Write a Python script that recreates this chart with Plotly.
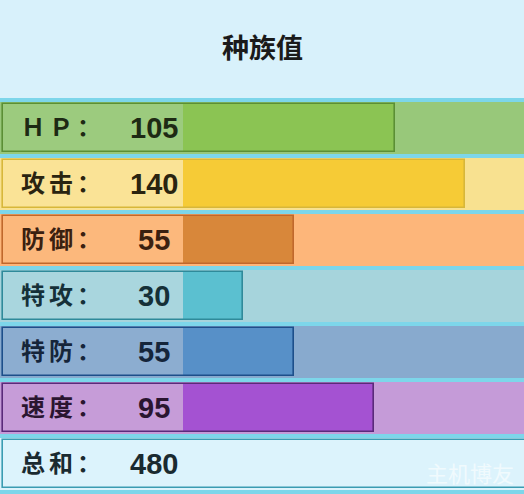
import plotly.graph_objects as go

# ---- data ----
stat_labels = ["Ｈ\u2006Ｐ\u2006：", "攻\u2006击\u2006：", "防\u2006御\u2006：", "特\u2006攻\u2006：", "特\u2006防\u2006：", "速\u2006度\u2006："]
stat_values = [105, 140, 55, 30, 55, 95]
total_label = "总\u2006和\u2006："
total_value = sum(stat_values)  # 480
title_text = "种族值"

# ---- styles ----
band_colors = ["#98c87a", "#f8e190", "#fdb67a", "#a6d4dc", "#88aace", "#c59bd8"]
label_colors = ["#9ccb7e", "#fae396", "#fcb87c", "#a9d6de", "#8cadd0", "#c69cd8"]
bar_colors = ["#8bc453", "#f6cb36", "#d8873a", "#5bc0d0", "#5790c8", "#a452d2"]
border_colors = ["#5b8f35", "#d7b73a", "#c0682c", "#2f8a9a", "#1d4f8a", "#5a2a7a"]
text_colors = ["#1e2a14", "#2a2410", "#3a2010", "#153038", "#15253a", "#2a1530"]
total_band = "#dcf3fc"
total_border = "#3a9cb2"
sep_color = "#7dd6ea"
title_bg = "#d8f1fb"

W, H = 524, 494
px_per_unit = 2.015
zero_px = 183.0
label_px = 3.0
row0_px = 128.0
row_pitch = 56.0

x_min = -zero_px / px_per_unit
x_max = (W - zero_px) / px_per_unit
label_start = (label_px - zero_px) / px_per_unit
y_top = -row0_px / row_pitch
y_bot = (H - row0_px) / row_pitch

n = len(stat_values)
rows = list(range(n))
band_w = 52 / row_pitch
box_w = 48 / row_pitch

fig = go.Figure()

# full-width background bands
fig.add_trace(go.Bar(
    y=rows + [n], x=[x_max - x_min] * (n + 1), base=[x_min] * (n + 1),
    orientation="h", width=band_w,
    marker=dict(color=band_colors + [total_band], line=dict(width=0)),
    hoverinfo="skip", showlegend=False))

# label sections
fig.add_trace(go.Bar(
    y=rows, x=[-label_start] * n, base=[label_start] * n,
    orientation="h", width=box_w,
    marker=dict(color=label_colors, line=dict(width=0)),
    hoverinfo="skip", showlegend=False))

# value bars
fig.add_trace(go.Bar(
    y=rows, x=stat_values, base=[0] * n,
    orientation="h", width=box_w,
    marker=dict(color=bar_colors, line=dict(width=0)),
    hoverinfo="skip", showlegend=False))

# borders around whole boxes
fig.add_trace(go.Bar(
    y=rows + [n],
    x=[v - label_start for v in stat_values] + [x_max + 5 - label_start],
    base=[label_start] * (n + 1),
    orientation="h", width=box_w,
    marker=dict(color="rgba(0,0,0,0)", line=dict(width=1.6, color=border_colors + [total_border])),
    hoverinfo="skip", showlegend=False))

annotations = []
label_x = (19 - zero_px) / px_per_unit
value_x = (154 - zero_px) / px_per_unit
all_labels = stat_labels + [total_label]
all_values = stat_values + [total_value]
all_tc = text_colors + ["#1a2a30"]
for i, (lab, val, tc) in enumerate(zip(all_labels, all_values, all_tc)):
    annotations.append(dict(
        x=label_x, y=i, xref="x", yref="y", text=f"<b>{lab}</b>",
        showarrow=False, xanchor="left", yanchor="middle", yshift=3,
        font=dict(family="Noto Sans CJK SC", size=24, color=tc)))
    annotations.append(dict(
        x=value_x, y=i, xref="x", yref="y", text=f"<b>{val}</b>",
        showarrow=False, xanchor="center", yanchor="middle",
        font=dict(family="Liberation Sans", size=29, color=tc)))

annotations.append(dict(
    x=262 / W, y=1 - 47 / H, xref="paper", yref="paper", text=f"<b>{title_text}</b>",
    showarrow=False, xanchor="center", yanchor="middle",
    font=dict(family="Noto Sans CJK SC", size=27, color="#1a1a1a")))
annotations.append(dict(
    x=0.985, y=1 - 472 / H, xref="paper", yref="paper", text="主机博友",
    showarrow=False, xanchor="right", yanchor="middle",
    font=dict(family="Noto Sans CJK SC", size=22, color="rgba(255,255,255,0.6)")))

shapes = [
    dict(type="rect", xref="paper", yref="paper", x0=0, x1=1, y0=1 - 98 / H, y1=1,
         fillcolor=title_bg, line=dict(width=0), layer="below"),
]

fig.update_layout(
    width=W, height=H, margin=dict(l=0, r=0, t=0, b=0),
    paper_bgcolor=sep_color, plot_bgcolor=sep_color,
    barmode="overlay", bargap=0,
    xaxis=dict(range=[x_min, x_max], visible=False, fixedrange=True),
    yaxis=dict(range=[y_bot, y_top], visible=False, fixedrange=True),
    annotations=annotations, shapes=shapes,
    showlegend=False,
)

fig.write_html("out.html")
